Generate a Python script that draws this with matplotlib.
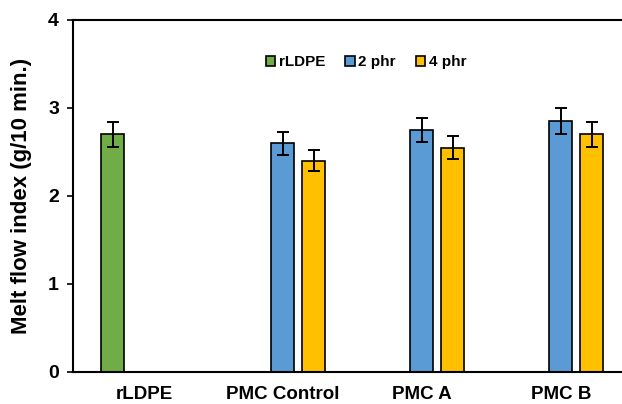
import numpy as np
import matplotlib.pyplot as plt

categories = ["rLDPE", "PMC Control", "PMC A", "PMC B"]
rldpe_vals = [2.70]
rldpe_err = [0.14]
phr2_vals = [2.60, 2.75, 2.85]
phr2_err = [0.13, 0.135, 0.145]
phr4_vals = [2.40, 2.55, 2.70]
phr4_err = [0.12, 0.13, 0.14]

green = "#70AD47"
blue = "#5B9BD5"
yellow = "#FFC000"

plt.rcParams['font.family'] = ['Liberation Sans', 'DejaVu Sans']
plt.rcParams['font.weight'] = 'bold'

fig = plt.figure(figsize=(6.22, 4.04), dpi=100)
ax = fig.add_axes([73 / 622, 32 / 404, 1 - 73 / 622, 352 / 404])

x = np.arange(len(categories))
slot = 0.223
width = 0.166
err_kw = dict(ecolor="black", elinewidth=1.4, capsize=4, capthick=1.4)

ax.bar(x[:1] - slot, rldpe_vals, width, yerr=rldpe_err, color=green,
       edgecolor="black", linewidth=1.2, label="rLDPE", error_kw=err_kw)
ax.bar(x[1:], phr2_vals, width, yerr=phr2_err, color=blue,
       edgecolor="black", linewidth=1.2, label="2 phr", error_kw=err_kw)
ax.bar(x[1:] + slot, phr4_vals, width, yerr=phr4_err, color=yellow,
       edgecolor="black", linewidth=1.2, label="4 phr", error_kw=err_kw)

ax.set_xlim(-0.51, 3.44)
ax.set_ylim(0, 4)
ax.set_yticks([0, 1, 2, 3, 4])
ax.set_xticks(x)
ax.set_xticklabels(categories, fontsize=13.5, fontweight="bold")
ax.tick_params(axis="x", length=0, pad=10)
ax.tick_params(axis="y", direction="out", length=4, width=1.2, labelsize=14, pad=6)
for lab in ax.get_yticklabels():
    lab.set_fontweight("bold")
ax.set_ylabel("Melt flow index (g/10 min.)", fontsize=16, fontweight="bold", labelpad=12)

for s in ["left", "bottom", "top"]:
    ax.spines[s].set_linewidth(1.5)
ax.spines["right"].set_visible(False)

ax.legend(loc="center", bbox_to_anchor=(0.534, 0.88), ncol=3, frameon=False,
          handlelength=0.6, handleheight=0.6, handletextpad=0.25,
          columnspacing=1.3, prop={"weight": "bold", "size": 11})

fig.savefig("out.png", dpi=100)
